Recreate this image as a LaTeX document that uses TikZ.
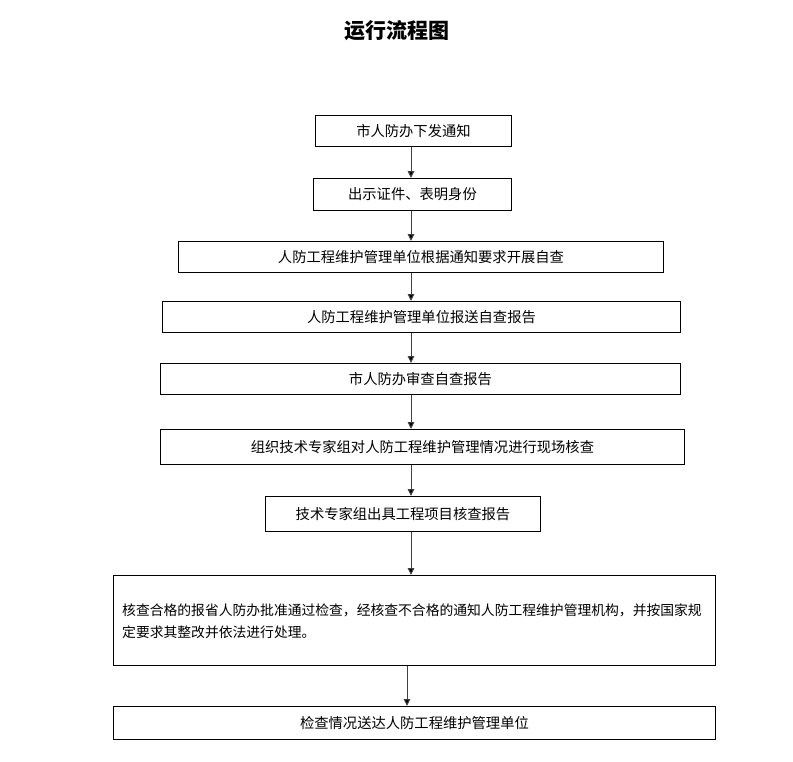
\documentclass[tikz,border=0pt]{standalone}
\usepackage{fontspec}
\setmainfont{Noto Sans CJK SC}
\usetikzlibrary{arrows.meta}
\begin{document}
\begin{tikzpicture}[x=1pt,y=-1pt,
  box/.style={draw=black,line width=0.9pt,inner sep=0pt,anchor=north west,font=\fontsize{14.3pt}{22pt}\selectfont},
  arr/.style={draw=black!75,line width=1pt,-{Triangle[length=7pt,width=6.5pt,fill=black]}}]
\useasboundingbox[fill=white] (0,0) rectangle (793,761);
\node[font=\fontsize{21pt}{24pt}\selectfont\bfseries] (title) at (397,31) {运行流程图};
\node[box,minimum width=196pt,minimum height=31pt] (b1) at (315,115) {市人防办下发通知};
\node[box,minimum width=198pt,minimum height=32pt] (b2) at (313,178) {出示证件、表明身份};
\node[box,minimum width=485pt,minimum height=31pt] (b3) at (178,241) {人防工程维护管理单位根据通知要求开展自查};
\node[box,minimum width=518pt,minimum height=31pt] (b4) at (162,301) {人防工程维护管理单位报送自查报告};
\node[box,minimum width=520pt,minimum height=31pt] (b5) at (160,363) {市人防办审查自查报告};
\node[box,minimum width=524pt,minimum height=35pt] (b6) at (160,429) {组织技术专家组对人防工程维护管理情况进行现场核查};
\node[box,minimum width=275pt,minimum height=35pt] (b7) at (265,496) {技术专家组出具工程项目核查报告};
\node[box,minimum width=602pt,minimum height=90pt] (b8) at (113,575) {};
\node[font=\fontsize{13.8pt}{22pt}\selectfont,align=left,anchor=west,inner sep=0pt] (t8) at (122,621) {核查合格的报省人防办批准通过检查，经核查不合格的通知人防工程维护管理机构，并按国家规\\定要求其整改并依法进行处理。};
\node[box,minimum width=602pt,minimum height=33pt] (b9) at (113,706) {检查情况送达人防工程维护管理单位};
\coordinate (ax) at (411,0);
\coordinate (bx) at (407,0);
\foreach \a/\b in {b1/b2,b2/b3,b3/b4,b4/b5,b5/b6,b6/b7,b7/b8}
  \draw[arr] (\a.south -| ax) -- (\b.north -| ax);
\draw[arr] (b8.south -| bx) -- (b9.north -| bx);
\end{tikzpicture}
\end{document}
